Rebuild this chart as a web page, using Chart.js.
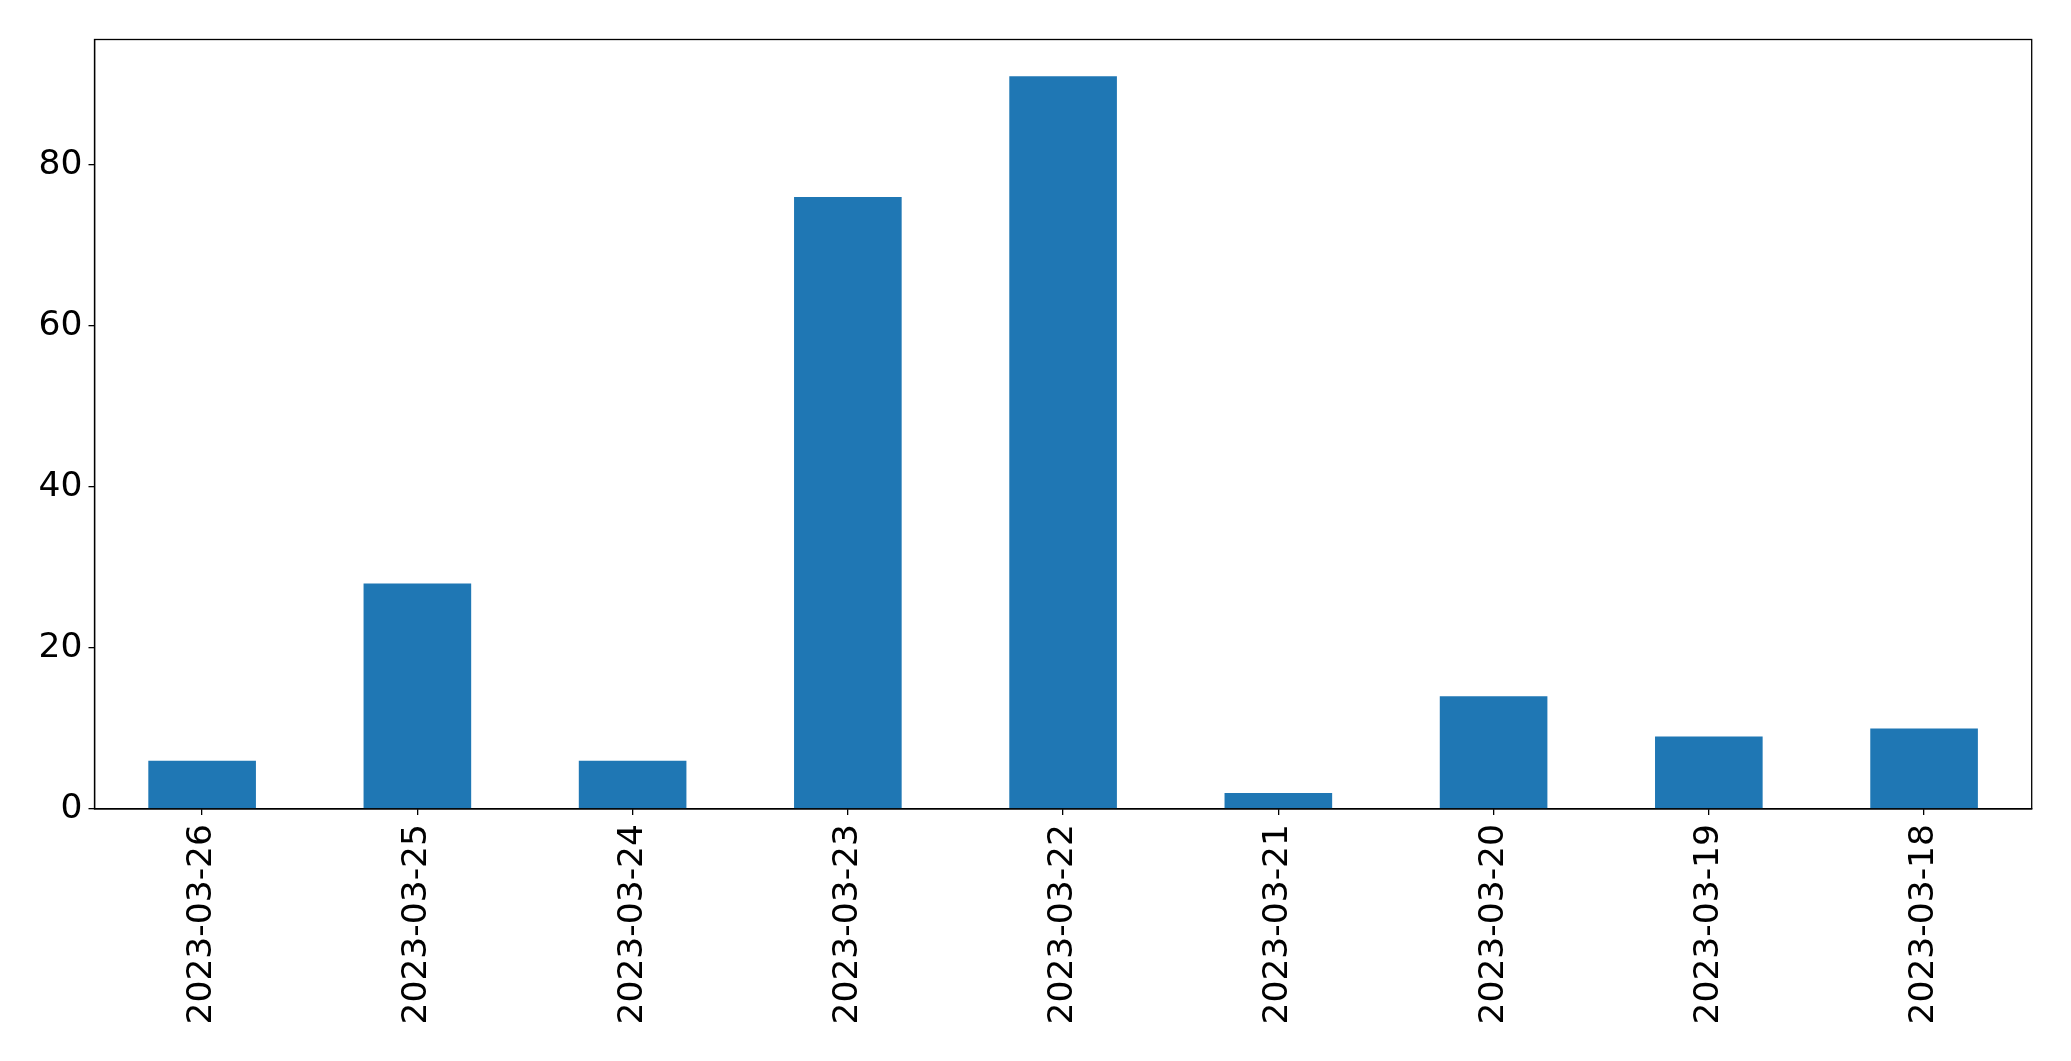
<!DOCTYPE html>
<html>
<head>
<meta charset="utf-8">
<script src="https://cdn.jsdelivr.net/npm/chart.js@4"></script>
<style>
html,body{margin:0;padding:0;background:#fff;}
#wrap{width:2071px;height:1061px;}
</style>
</head>
<body>
<div id="wrap"><canvas id="c" width="2071" height="1061"></canvas></div>
<script>
const categories = ["2023-03-26","2023-03-25","2023-03-24","2023-03-23","2023-03-22","2023-03-21","2023-03-20","2023-03-19","2023-03-18"];
const values = [6, 28, 6, 76, 91, 2, 14, 9, 10];
const yTicks = [0, 20, 40, 60, 80];

const framePlugin = {
  id: 'frame',
  afterDraw(chart) {
    const a = chart.chartArea, ctx = chart.ctx;
    ctx.save();
    ctx.strokeStyle = '#000';
    ctx.lineWidth = 1.3;
    ctx.strokeRect(a.left, a.top, a.right - a.left, a.bottom - a.top);
    ctx.restore();
  }
};

new Chart(document.getElementById('c'), {
  type: 'bar',
  data: {
    labels: categories,
    datasets: [{
      data: values,
      backgroundColor: '#1f77b4',
      borderWidth: 0,
      categoryPercentage: 1.0,
      barPercentage: 0.5
    }]
  },
  options: {
    responsive: false,
    animation: false,
    devicePixelRatio: 1,
    layout: { padding: { left: 0, top: 39.5, right: 39.3, bottom: 0 } },
    plugins: { legend: { display: false }, tooltip: { enabled: false } },
    scales: {
      x: {
        offset: true,
        grid: { display: true, offset: false, drawOnChartArea: false, drawTicks: true, tickLength: 6, color: '#000', lineWidth: 1.3 },
        border: { display: true, color: '#000', width: 1.3 },
        ticks: {
          color: '#000',
          font: { family: 'DejaVu Sans', size: 34.5 },
          minRotation: 90, maxRotation: 90,
          padding: 9,
          autoSkip: false
        },
        afterFit(scale) { scale.height = 1061 - 809; }
      },
      y: {
        min: 0,
        max: Math.max(...values) * 1.05,
        afterBuildTicks(scale) { scale.ticks = yTicks.map(v => ({ value: v })); },
        grid: { display: true, drawOnChartArea: false, drawTicks: true, tickLength: 6, color: '#000', lineWidth: 1.3 },
        border: { display: true, color: '#000', width: 1.3 },
        ticks: {
          color: '#000',
          font: { family: 'DejaVu Sans', size: 34.5 },
          padding: 6
        },
        afterFit(scale) { scale.width = 94.5; }
      }
    }
  },
  plugins: [framePlugin]
});
</script>
</body>
</html>
